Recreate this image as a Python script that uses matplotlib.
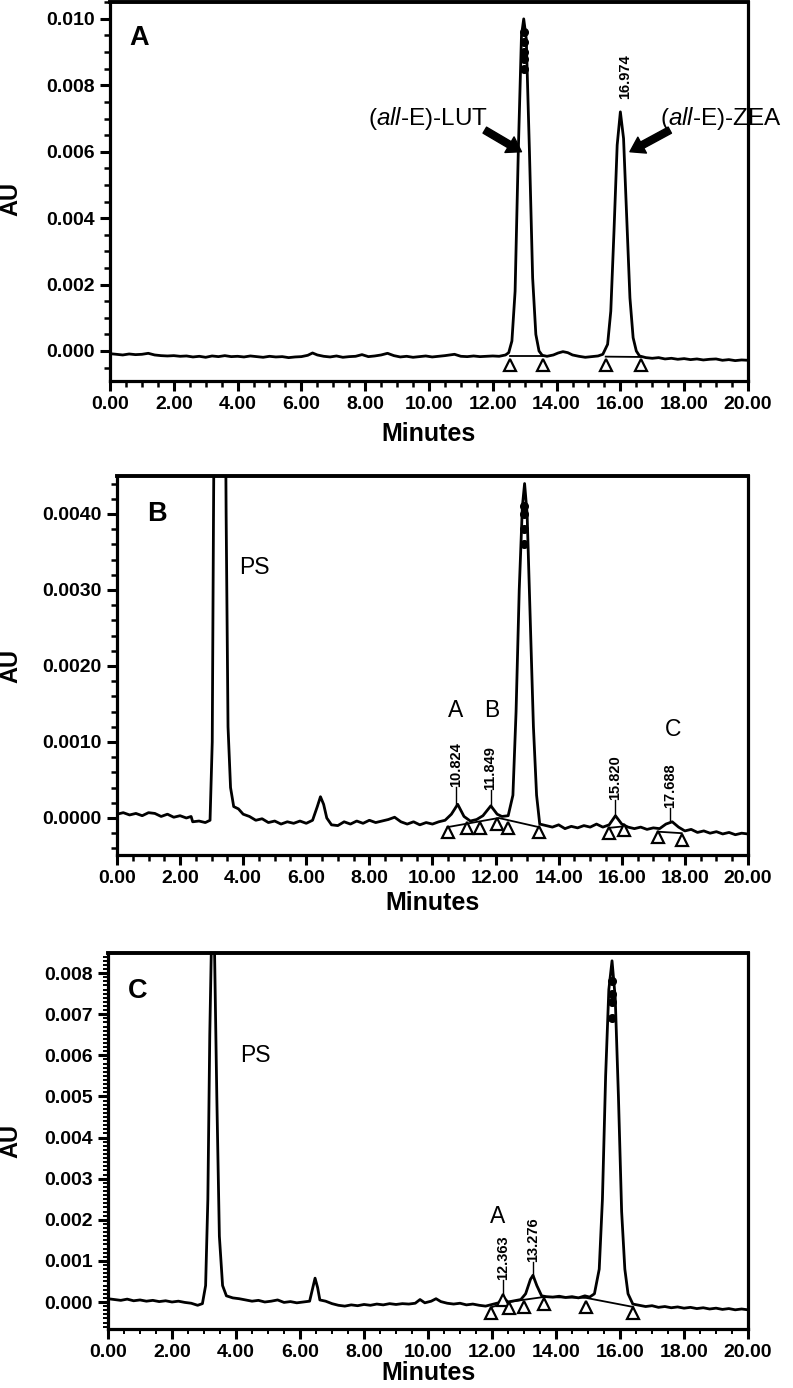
"""
HPLC chromatograms (panels A, B, C) redrawn with matplotlib.
"""

import matplotlib
matplotlib.use('Agg')
import matplotlib.pyplot as plt
from matplotlib.ticker import MultipleLocator, FormatStrFormatter

plt.rcParams['font.family'] = ['Liberation Sans', 'DejaVu Sans']
plt.rcParams['mathtext.fontset'] = 'custom'
plt.rcParams['mathtext.it'] = 'Liberation Sans:italic'
plt.rcParams['mathtext.rm'] = 'Liberation Sans'

# ---------------- Panel A: standards ----------------
time_a = [0.0, 0.2, 0.4, 0.6, 0.8, 1.0, 1.2, 1.4, 1.6, 1.8, 2.0, 2.2, 2.4, 2.6, 2.8, 3.0, 3.2, 3.4, 3.6,
          3.8, 4.0, 4.2, 4.4, 4.6, 4.8, 5.0, 5.2, 5.4, 5.6, 5.8, 6.0, 6.2, 6.35, 6.5, 6.7, 6.9, 7.1, 7.3,
          7.5, 7.7, 7.9, 8.1, 8.3, 8.5, 8.7, 8.9, 9.1, 9.3, 9.5, 9.7, 9.9, 10.1, 10.3, 10.5, 10.8, 11.0,
          11.2, 11.4, 11.6, 11.8, 12.0, 12.2, 12.4, 12.5, 12.6, 12.7, 12.8, 12.9, 12.97, 13.05, 13.15,
          13.25, 13.35, 13.45, 13.55, 13.7, 13.9, 14.05, 14.2, 14.35, 14.5, 14.7, 14.9, 15.1, 15.3, 15.45,
          15.6, 15.7, 15.8, 15.9, 16.0, 16.1, 16.2, 16.3, 16.4, 16.5, 16.6, 16.8, 17.0, 17.2, 17.4, 17.6,
          17.8, 18.0, 18.2, 18.4, 18.6, 18.8, 19.0, 19.2, 19.4, 19.6, 19.8, 20.0]
au_a = [-0.00008, -0.00010, -0.00012, -0.00009, -0.00011, -0.00010, -0.00007, -0.00012, -0.00014,
        -0.00015, -0.00014, -0.00016, -0.00015, -0.00018, -0.00016, -0.00019, -0.00015, -0.00017,
        -0.00014, -0.00017, -0.00016, -0.00018, -0.00015, -0.00017, -0.00019, -0.00016, -0.00018,
        -0.00017, -0.00020, -0.00018, -0.00017, -0.00013, -0.00006, -0.00012, -0.00016, -0.00018,
        -0.00015, -0.00019, -0.00017, -0.00016, -0.00011, -0.00017, -0.00015, -0.00012, -0.00007,
        -0.00014, -0.00018, -0.00016, -0.00019, -0.00017, -0.00015, -0.00018, -0.00016, -0.00014,
        -0.00010, -0.00016, -0.00017, -0.00015, -0.00017, -0.00016, -0.00015, -0.00016, -0.00012,
        -0.00005, 0.0003, 0.0018, 0.0060, 0.0095, 0.0100, 0.0094, 0.0060, 0.0022, 0.0005, 0.0000,
        -0.00013, -0.00016, -0.00012, -0.00006, -0.00002, -0.00005, -0.00012, -0.00016, -0.00019,
        -0.00017, -0.00015, -0.00010, 0.0002, 0.0012, 0.0036, 0.0062, 0.0072, 0.0064, 0.0040, 0.0016,
        0.0004, 0.0000, -0.00015, -0.00020, -0.00022, -0.00020, -0.00024, -0.00022, -0.00025, -0.00023,
        -0.00026, -0.00024, -0.00027, -0.00025, -0.00024, -0.00028, -0.00026, -0.00029, -0.00027,
        -0.00028]
tri_t_a = [12.53, 13.59, 15.54, 16.64]
tri_au_a = [-0.00042, -0.00042, -0.00042, -0.00042]
base_t_a = [[12.53, 13.59], [15.54, 16.64]]
base_au_a = [[-0.00016, -0.00016], [-0.00017, -0.00018]]
bead_t_a = 12.97
bead_au_a = [0.0096, 0.0093, 0.0090, 0.0088, 0.0085]
rt_labels_a = ['16.974']
rt_t_a = [16.14]
rt_au_a = [0.0076]

# ---------------- Panel B ----------------
time_b = [0.0, 0.2, 0.4, 0.6, 0.8, 1.0, 1.2, 1.4, 1.6, 1.8, 2.0, 2.2, 2.35, 2.4, 2.6, 2.8, 2.95, 3.02,
          3.06, 3.12, 3.4, 3.46, 3.52, 3.6, 3.7, 3.85, 4.0, 4.2, 4.4, 4.6, 4.8, 5.0, 5.2, 5.4, 5.6, 5.8,
          6.0, 6.2, 6.35, 6.45, 6.55, 6.65, 6.8, 7.0, 7.2, 7.4, 7.6, 7.8, 8.0, 8.2, 8.4, 8.6, 8.8, 9.0,
          9.2, 9.4, 9.6, 9.8, 10.0, 10.2, 10.4, 10.6, 10.8, 11.0, 11.2, 11.4, 11.6, 11.85, 12.05, 12.2,
          12.4, 12.55, 12.65, 12.75, 12.85, 12.92, 13.0, 13.1, 13.2, 13.3, 13.4, 13.6, 13.8, 14.0, 14.2,
          14.4, 14.6, 14.8, 15.0, 15.2, 15.4, 15.6, 15.8, 16.0, 16.2, 16.4, 16.6, 16.8, 17.0, 17.2, 17.4,
          17.6, 17.8, 18.0, 18.2, 18.4, 18.6, 18.8, 19.0, 19.2, 19.4, 19.6, 19.8, 20.0]
au_b = [0.00005, 0.00007, 0.00004, 0.00006, 0.00003, 0.00007, 0.00006, 0.00002, 0.00005, 0.00001,
        0.00003, 0.00000, 0.00002, -0.00005, -0.00004, -0.00006, -0.00003, 0.0010, 0.0040, 0.0080,
        0.0080, 0.0040, 0.0012, 0.0004, 0.00015, 0.00012, 0.00005, 0.00002, -0.00003, -0.00001,
        -0.00006, -0.00004, -0.00008, -0.00005, -0.00007, -0.00004, -0.00007, -0.00003, 0.00015,
        0.00028, 0.00018, 0.00000, -0.00009, -0.00010, -0.00005, -0.00008, -0.00004, -0.00007,
        -0.00003, -0.00006, -0.00004, -0.00002, 0.00001, -0.00005, -0.00008, -0.00005, -0.00009,
        -0.00006, -0.00008, -0.00005, -0.00003, 0.00005, 0.00018, 0.00002, -0.00004, -0.00002,
        0.00003, 0.00016, 0.00005, 0.00002, 0.00003, 0.0003, 0.0014, 0.0030, 0.0041, 0.0044, 0.0040,
        0.0026, 0.0012, 0.0003, -0.00008, -0.00010, -0.00012, -0.00009, -0.00014, -0.00011, -0.00013,
        -0.00010, -0.00012, -0.00008, -0.00012, -0.00009, 0.00003, -0.00008, -0.00012, -0.00014,
        -0.00012, -0.00015, -0.00013, -0.00014, -0.00008, -0.00005, -0.00012, -0.00017, -0.00015,
        -0.00019, -0.00017, -0.00020, -0.00018, -0.00021, -0.00019, -0.00022, -0.00020, -0.00021]
tri_t_b = [10.48, 11.08, 11.52, 12.03, 12.38, 13.37, 15.59, 16.06, 17.14, 17.90]
tri_au_b = [-0.00018, -0.00013, -0.00013, -0.00008, -0.00013, -0.00018, -0.00020, -0.00016,
            -0.00025, -0.00029]
base_t_b = [[10.48, 12.1, 13.37], [15.59, 16.06], [17.14, 17.9]]
base_au_b = [[-0.00012, 0.00000, -0.00012], [-0.00013, -0.00011], [-0.00018, -0.00020]]
bead_t_b = 12.9
bead_au_b = [0.0041, 0.0040, 0.0038, 0.0036]
rt_labels_b = ['10.824', '11.849', '15.820', '17.688']
rt_t_b = [10.76, 11.84, 15.78, 17.52]
rt_peak_b = [0.00018, 0.00016, 0.00003, -0.00005]
rt_au_b = [0.00041, 0.00037, 0.00024, 0.00013]
peak_names_b = ['PS', 'A', 'B', 'C']
peak_name_t_b = [4.35, 10.73, 11.87, 17.62]
peak_name_au_b = [0.00329, 0.00142, 0.00142, 0.00116]

# ---------------- Panel C ----------------
time_c = [0.0, 0.2, 0.4, 0.6, 0.8, 1.0, 1.2, 1.4, 1.6, 1.8, 2.0, 2.2, 2.4, 2.6, 2.8, 2.95, 3.05, 3.12,
          3.18, 3.25, 3.32, 3.4, 3.48, 3.58, 3.7, 3.9, 4.1, 4.3, 4.5, 4.7, 4.9, 5.1, 5.3, 5.5, 5.7, 5.9,
          6.1, 6.3, 6.4, 6.47, 6.55, 6.62, 6.8, 7.0, 7.2, 7.4, 7.6, 7.8, 8.0, 8.2, 8.4, 8.6, 8.8, 9.0,
          9.2, 9.4, 9.6, 9.75, 9.9, 10.1, 10.25, 10.4, 10.6, 10.8, 11.0, 11.2, 11.4, 11.6, 11.8, 12.0,
          12.2, 12.36, 12.5, 12.7, 12.9, 13.05, 13.2, 13.28, 13.4, 13.55, 13.7, 13.9, 14.1, 14.3, 14.5,
          14.7, 14.9, 15.05, 15.2, 15.35, 15.45, 15.55, 15.65, 15.75, 15.85, 15.95, 16.05, 16.15, 16.25,
          16.4, 16.6, 16.8, 17.0, 17.2, 17.4, 17.6, 17.8, 18.0, 18.2, 18.4, 18.6, 18.8, 19.0, 19.2, 19.4,
          19.6, 19.8, 20.0]
au_c = [0.00008, 0.00006, 0.00004, 0.00007, 0.00003, 0.00005, 0.00002, 0.00004, 0.00001, 0.00003,
        0.00000, 0.00002, -0.00001, -0.00003, -0.00008, -0.00004, 0.0004, 0.0025, 0.0065, 0.0095,
        0.0090, 0.0050, 0.0016, 0.0004, 0.00015, 0.00010, 0.00008, 0.00005, 0.00002, 0.00004, 0.00000,
        0.00002, 0.00005, -0.00001, 0.00001, -0.00002, 0.00000, 0.00002, 0.00035, 0.00058, 0.00035,
        0.00005, 0.00002, -0.00004, -0.00008, -0.00010, -0.00007, -0.00009, -0.00006, -0.00008,
        -0.00005, -0.00007, -0.00004, -0.00006, -0.00004, -0.00005, -0.00003, 0.00006, -0.00002,
        0.00002, 0.00008, 0.00001, -0.00003, -0.00005, -0.00003, -0.00007, -0.00005, -0.00008,
        -0.00010, -0.00006, -0.00002, 0.00010, 0.00000, 0.00003, 0.00006, 0.00020, 0.00055, 0.00065,
        0.00040, 0.00015, 0.00013, 0.00012, 0.00014, 0.00011, 0.00013, 0.00010, 0.00015, 0.00012,
        0.00020, 0.0008, 0.0025, 0.0055, 0.0076, 0.0083, 0.0074, 0.0050, 0.0022, 0.0008, 0.0002,
        -0.00005, -0.00008, -0.00011, -0.00009, -0.00013, -0.00011, -0.00014, -0.00012, -0.00015,
        -0.00013, -0.00016, -0.00014, -0.00017, -0.00015, -0.00018, -0.00016, -0.00019, -0.00017,
        -0.00019]
tri_t_c = [11.97, 12.34, 12.53, 13.00, 13.63, 14.94, 16.41]
tri_au_c = [-0.00027, 0.00005, -0.00015, -0.00012, -0.00005, -0.00012, -0.00027]
base_t_c = [[11.97, 12.5, 13.6, 14.94, 16.41]]
base_au_c = [[-0.00013, 0.00000, 0.00012, 0.00010, -0.00012]]
bead_t_c = 15.75
bead_au_c = [0.0078, 0.0075, 0.0073, 0.0069]
rt_labels_c = ['12.363', '13.276']
rt_t_c = [12.34, 13.28]
rt_peak_c = [0.00010, 0.00065]
rt_au_c = [0.00054, 0.00097]
peak_names_c = ['PS', 'A']
peak_name_t_c = [4.6, 12.16]
peak_name_au_c = [0.0060, 0.00207]


def style_axes(ax, ylim, ymajor, yminor, yfmt, letter, letter_xy, label_pos):
    """
    Applies the chromatogram frame, ticks and labels to one panel.
    :param label_pos: (x of AU centre, y of AU centre, y of Minutes centre) in axes fractions
    """
    ax.set_xlim(0, 20)
    ax.set_ylim(*ylim)
    ax.xaxis.set_major_locator(MultipleLocator(2))
    ax.xaxis.set_minor_locator(MultipleLocator(0.5))
    ax.xaxis.set_major_formatter(FormatStrFormatter('%.2f'))
    ax.yaxis.set_major_locator(MultipleLocator(ymajor))
    ax.yaxis.set_minor_locator(MultipleLocator(yminor))
    ax.yaxis.set_major_formatter(FormatStrFormatter(yfmt))
    ax.tick_params(which='major', direction='out', length=7, width=2.2, labelsize=14, pad=4)
    ax.tick_params(which='minor', direction='out', length=4, width=1.8)
    for lab in ax.get_xticklabels() + ax.get_yticklabels():
        lab.set_fontweight('bold')
    for side in ['left', 'right', 'top', 'bottom']:
        ax.spines[side].set_linewidth(2.3)
    ax.spines['top'].set_linewidth(2.8)
    ax.set_xlabel('Minutes', fontsize=18, fontweight='bold', va='center')
    ax.set_ylabel('AU', fontsize=17, fontweight='bold', va='center')
    ax.yaxis.set_label_coords(label_pos[0], label_pos[1])
    ax.xaxis.set_label_coords(0.5, label_pos[2])
    ax.text(letter_xy[0], letter_xy[1], letter, transform=ax.transAxes, fontsize=19.5,
            fontweight='bold', ha='center', va='center')


def draw_trace(ax, t, au, tri_t, tri_au, base_t, base_au, bead_t, bead_au):
    """
    Draws the detector trace, integration baselines, markers and the blob of tick marks on the main peak.
    """
    for bt, ba in zip(base_t, base_au):
        ax.plot(bt, ba, color='black', lw=1.3, zorder=2)
    ax.plot(t, au, color='black', lw=2.0, zorder=3)
    ax.plot(tri_t, tri_au, linestyle='none', marker='^', markersize=9, mfc='white', mec='black',
            mew=1.6, zorder=4)
    ax.plot([bead_t] * len(bead_au), bead_au, linestyle='none', marker='o', markersize=5.5,
            color='black', zorder=4)


def add_rt_labels(ax, labels, t, peak, pos):
    for lab, x, p, y in zip(labels, t, peak, pos):
        if p is not None:
            ax.plot([x, x], [p, y], color='black', lw=1.0)
        ax.text(x, y, lab, rotation=90, ha='center', va='bottom', fontsize=10.5, fontweight='bold')


fig = plt.figure(figsize=(7.93, 13.88), dpi=100)

# Panel A
ax_a = fig.add_axes([0.1387, 0.7255, 0.8045, 0.2731])
style_axes(ax_a, (-0.000904, 0.01051), 0.002, 0.0005, '%.3f', 'A', (0.045, 0.905),
           (-0.155, 0.48, -0.14))
draw_trace(ax_a, time_a, au_a, tri_t_a, tri_au_a, base_t_a, base_au_a, bead_t_a, bead_au_a)
add_rt_labels(ax_a, rt_labels_a, rt_t_a, [None], rt_au_a)
ax_a.text(11.84, 0.0070, r'($\mathit{all}$-E)-LUT', ha='right', va='center', fontsize=17.5)
ax_a.text(17.24, 0.0070, r'($\mathit{all}$-E)-ZEA', ha='left', va='center', fontsize=17.5, clip_on=False)
arrow_style = dict(facecolor='black', edgecolor='black', width=5, headwidth=13, headlength=10)
ax_a.annotate('', xy=(12.9, 0.0060), xytext=(11.75, 0.00665), arrowprops=arrow_style)
ax_a.annotate('', xy=(16.3, 0.0060), xytext=(17.55, 0.00665), arrowprops=arrow_style)

# Panel B
ax_b = fig.add_axes([0.1475, 0.3840, 0.7957, 0.2731])
style_axes(ax_b, (-0.000487, 0.0045), 0.001, 0.0002, '%.4f', 'B', (0.063, 0.9),
           (-0.168, 0.5, -0.127))
draw_trace(ax_b, time_b, au_b, tri_t_b, tri_au_b, base_t_b, base_au_b, bead_t_b, bead_au_b)
add_rt_labels(ax_b, rt_labels_b, rt_t_b, rt_peak_b, rt_au_b)
for name, x, y in zip(peak_names_b, peak_name_t_b, peak_name_au_b):
    ax_b.text(x, y, name, ha='center', va='center', fontsize=16.5)

# Panel C
ax_c = fig.add_axes([0.1362, 0.0425, 0.8071, 0.2709])
style_axes(ax_c, (-0.000657, 0.00849), 0.001, 0.0001, '%.3f', 'C', (0.046, 0.9),
           (-0.151, 0.5, -0.118))
ax_c.tick_params(which='minor', length=3.5, width=1.4)
draw_trace(ax_c, time_c, au_c, tri_t_c, tri_au_c, base_t_c, base_au_c, bead_t_c, bead_au_c)
add_rt_labels(ax_c, rt_labels_c, rt_t_c, rt_peak_c, rt_au_c)
for name, x, y in zip(peak_names_c, peak_name_t_c, peak_name_au_c):
    ax_c.text(x, y, name, ha='center', va='center', fontsize=16.5)

fig.savefig('out.png', dpi=100)
